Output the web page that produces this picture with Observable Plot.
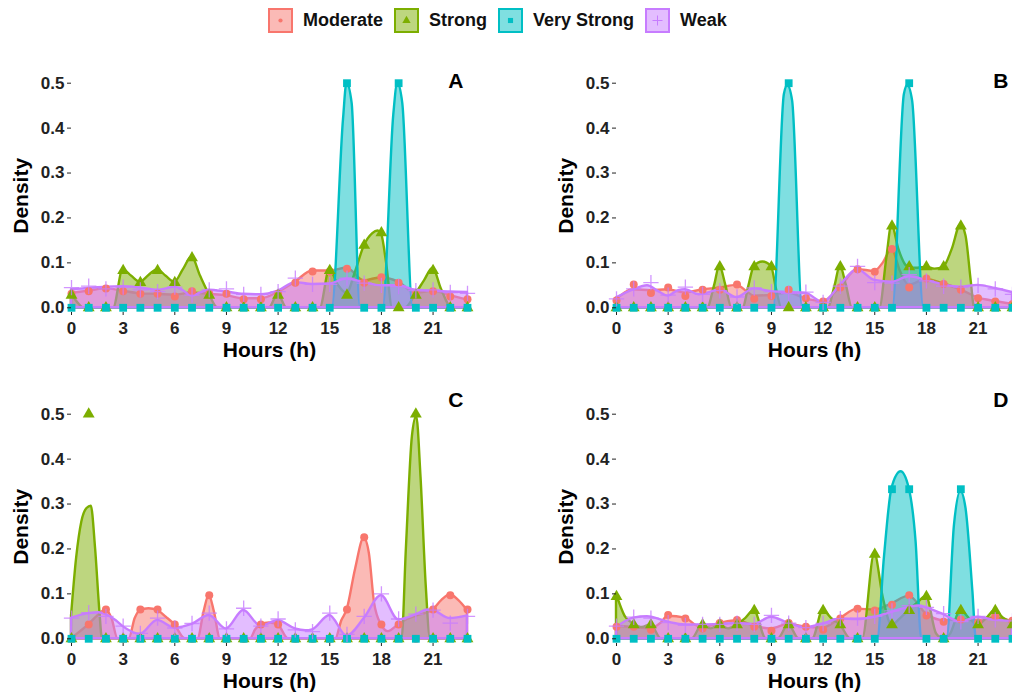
<!DOCTYPE html>
<html><head><meta charset="utf-8">
<script src="https://cdn.jsdelivr.net/npm/d3@7"></script>
<script src="https://cdn.jsdelivr.net/npm/@observablehq/plot@0.6"></script>
<style>
body{margin:0;background:#fff;font-family:"Liberation Sans",Arial,sans-serif;}
#root{position:relative;width:1012px;height:692px;overflow:hidden;background:#fff;}
.panel{position:absolute;}
#legend{position:absolute;top:8px;left:268px;display:flex;align-items:center;font-weight:bold;font-size:18px;color:#111;white-space:nowrap;}
#legend .item{display:flex;align-items:center;margin-right:11px;}
#legend svg{display:block;margin-right:10px;}
</style></head>
<body><div id="root"><div id="legend"></div></div>
<script>
const hours = [0,1,2,3,4,5,6,7,8,9,10,11,12,13,14,15,16,17,18,19,20,21,22,23];
const categories = ["Moderate","Strong","Very Strong","Weak"];
const colors = ["#F8766D","#7CAE00","#00BFC4","#C77CFF"];
const symbols = ["circle","triangle","square","plus"];
const xTicks = [0,3,6,9,12,15,18,21];
const yTicks = [0,0.1,0.2,0.3,0.4,0.5];
const panelLetters = ["A","B","C","D"];

// ---- Panel A: proportions per hour ----
const A_moderate = [0.031,0.037,0.043,0.037,0.031,0.031,0.025,0.037,0.031,0.031,0.019,0.019,0.031,0.056,0.081,0.081,0.087,0.056,0.068,0.056,0.031,0.037,0.025,0.019];
const A_strong = [0.028,0,0,0.083,0.056,0.083,0.056,0.111,0.028,0,0,0,0.028,0,0,0.083,0.028,0.139,0.167,0,0.028,0.083,0,0];
const A_veryStrong = [0,0,0,0,0,0,0,0,0,0,0,0,0,0,0,0,0.5,0,0,0.5,0,0,0,0];
const A_weak = [0.045,0.048,0.042,0.046,0.04,0.036,0.046,0.028,0.04,0.042,0.03,0.03,0.036,0.066,0.052,0.052,0.066,0.055,0.05,0.047,0.038,0.04,0.034,0.032];
// ---- Panel A: density curves [hour, density] ----
const A_moderateCurve = [[0,0.032],[1,0.037],[2,0.042],[3,0.037],[4,0.031],[5,0.03],[6,0.028],[7,0.033],[8,0.03],[9,0.027],[10,0.02],[11,0.02],[12,0.034],[13,0.057],[14,0.082],[15,0.082],[16,0.088],[17,0.06],[18,0.067],[19,0.057],[20,0.032],[21,0.037],[22,0.027],[23,0.017]];
const A_strongCurve = [[0,0.03],[0.35,0.012],[0.7,0],[2.45,0],[3,0.085],[3.5,0.07],[4,0.057],[4.5,0.072],[5,0.085],[5.5,0.07],[6,0.057],[6.5,0.085],[7,0.113],[7.5,0.07],[8,0.03],[8.5,0],[11.5,0],[12,0.03],[12.5,0],[14.45,0],[15,0.085],[15.5,0.05],[16,0.032],[16.5,0.08],[17,0.137],[17.5,0.165],[17.8,0.171],[18,0.165],[18.3,0.1],[18.65,0],[19.4,0],[20,0.03],[20.5,0.06],[21,0.088],[21.5,0.04],[22.1,0],[23,0]];
const A_veryStrongCurve = [[0,0],[15.14,0],[15.8,0.42],[16,0.5],[16.3,0.455],[16.78,0],[18.1,0],[18.72,0.43],[18.95,0.5],[19.24,0.455],[19.84,0],[23,0]];
const A_weakCurve = [[0,0.04],[1,0.043],[2,0.046],[3,0.047],[4,0.044],[5,0.039],[5.5,0.042],[6,0.046],[6.5,0.038],[7,0.026],[7.5,0.033],[8,0.039],[9,0.035],[10,0.03],[11,0.029],[12,0.037],[13,0.056],[14,0.052],[15,0.053],[16,0.064],[17,0.056],[18,0.049],[19,0.049],[20,0.039],[21,0.037],[22,0.035],[23,0.034]];

// ---- Panel B ----
const B_moderate = [0.016,0.052,0.033,0.045,0.026,0.04,0.04,0.052,0.02,0.026,0.04,0.021,0.014,0.045,0.086,0.08,0.131,0.045,0.065,0.053,0.04,0.021,0.014,0.008];
const B_strong = [0,0,0,0,0,0,0.091,0,0.091,0.091,0,0,0,0.091,0,0,0.182,0.091,0.091,0.091,0.182,0,0,0];
const B_veryStrong = [0,0,0,0,0,0,0,0,0,0,0.5,0,0,0,0,0,0,0.5,0,0,0,0,0,0];
const B_weak = [0.02,0.042,0.056,0.028,0.046,0.03,0.038,0.024,0.044,0.036,0.032,0.035,0.012,0.048,0.092,0.056,0.055,0.074,0.06,0.048,0.046,0.05,0.042,0.03];
const B_moderateCurve = [[0,0.018],[1,0.04],[2,0.038],[3,0.04],[4,0.033],[5,0.04],[6,0.044],[7,0.05],[7.6,0.035],[8,0.026],[9,0.028],[10,0.033],[11,0.02],[12,0.014],[13,0.045],[14,0.085],[15,0.081],[15.5,0.1],[16,0.13],[16.5,0.08],[17,0.05],[18,0.063],[19,0.053],[20,0.04],[21,0.022],[22,0.014],[23,0.008]];
const B_strongCurve = [[0,0],[5.3,0],[5.7,0.05],[6,0.093],[6.35,0.05],[6.7,0],[7.35,0],[7.7,0.05],[8,0.092],[8.5,0.102],[9,0.092],[9.3,0.04],[9.6,0],[12.3,0],[12.7,0.05],[13,0.093],[13.35,0.05],[13.7,0],[15.3,0],[15.7,0.11],[16,0.185],[16.4,0.13],[16.8,0.095],[17,0.09],[17.5,0.088],[18,0.09],[18.5,0.086],[19,0.09],[19.5,0.13],[20,0.185],[20.3,0.16],[20.6,0.06],[20.8,0],[23,0]];
const B_veryStrongCurve = [[0,0],[9.13,0],[9.75,0.475],[9.95,0.495],[10.23,0.46],[10.81,0],[16.05,0],[16.72,0.475],[16.92,0.495],[17.2,0.46],[17.85,0],[23,0]];
const B_weakCurve = [[0,0.022],[1,0.04],[1.8,0.049],[2.5,0.035],[3,0.026],[3.6,0.038],[4,0.04],[4.8,0.029],[5.5,0.035],[6,0.04],[7,0.023],[8,0.042],[9,0.036],[10,0.034],[11,0.032],[12,0.012],[13,0.05],[14,0.085],[15,0.061],[16,0.057],[17,0.069],[18,0.061],[19,0.051],[20,0.046],[21,0.05],[22,0.043],[23,0.034]];

// ---- Panel C ----
const C_moderate = [0,0.032,0.065,0,0.065,0.065,0.032,0,0.097,0,0,0.032,0.032,0,0,0,0.065,0.226,0.032,0.032,0,0.065,0.097,0.065];
const C_strong = [0,0.5,0,0,0,0,0,0,0,0,0,0,0,0,0,0,0,0,0,0,0.5,0,0,0];
const C_veryStrong = [0,0,0,0,0,0,0,0,0,0,0,0,0,0,0,0,0,0,0,0,0,0,0,0];
const C_weak = [0.046,0.058,0.05,0.028,0.012,0.046,0.024,0.034,0.057,0.022,0.068,0.028,0.044,0.02,0.016,0.057,0.01,0.05,0.1,0.044,0.055,0.064,0.035,0.05];
const C_moderateCurve = [[0,0],[0.4,0.012],[1,0.031],[1.5,0.05],[2,0.064],[2.35,0.045],[2.7,0],[3.35,0],[3.7,0.045],[4,0.063],[4.5,0.067],[5,0.063],[5.5,0.048],[6,0.031],[6.6,0],[7.35,0],[7.7,0.06],[8,0.097],[8.3,0.06],[8.65,0],[10.4,0],[10.7,0.02],[11,0.031],[11.5,0.035],[12,0.031],[12.6,0],[15.35,0],[15.7,0.04],[16,0.063],[16.5,0.155],[17,0.224],[17.3,0.19],[17.6,0.08],[18,0.031],[18.4,0.016],[19,0.031],[19.5,0.043],[20,0.05],[21,0.064],[21.5,0.085],[22,0.098],[22.5,0.085],[23,0.063]];
const C_strongCurve = [[0,0.05],[0.3,0.18],[0.6,0.26],[0.9,0.29],[1.15,0.295],[1.4,0.2],[1.65,0.06],[1.8,0],[19.2,0],[19.45,0.2],[19.8,0.45],[20.05,0.495],[20.3,0.36],[20.6,0.12],[20.85,0],[23,0]];
const C_veryStrongCurve = [];
const C_weakCurve = [[0,0.046],[1,0.056],[1.6,0.058],[2,0.054],[2.6,0.04],[3,0.027],[4,0.01],[5,0.041],[6,0.024],[7,0.032],[8,0.052],[9,0.022],[10,0.063],[11,0.028],[12,0.04],[13,0.022],[13.6,0.018],[14,0.02],[15,0.052],[16,0.006],[17,0.045],[18,0.096],[19,0.042],[20,0.053],[20.7,0.064],[21,0.063],[22,0.045],[23,0.051]];

// ---- Panel D ----
const D_moderate = [0.027,0.027,0.02,0.053,0.045,0.023,0.035,0.042,0.027,0.018,0.035,0.027,0.02,0.045,0.067,0.063,0.076,0.097,0.052,0.038,0.043,0.036,0.05,0.04];
const D_strong = [0.094,0.031,0.031,0,0,0.031,0.031,0.031,0.063,0,0.031,0,0.063,0.031,0,0.188,0.031,0.063,0.094,0,0.063,0.031,0.063,0.031];
const D_veryStrong = [0,0,0,0,0,0,0,0,0,0,0,0,0,0,0,0,0.333,0.333,0,0,0.333,0,0,0];
const D_weak = [0.028,0.048,0.046,0.036,0.03,0.032,0.032,0.035,0.032,0.052,0.035,0.025,0.034,0.045,0.046,0.05,0.062,0.074,0.07,0.056,0.038,0.05,0.042,0.04];
const D_moderateCurve = [[0,0.028],[1,0.025],[2,0.022],[2.6,0.035],[3,0.05],[4,0.046],[4.6,0.03],[5,0.025],[6,0.034],[7,0.04],[8,0.028],[9,0.022],[10,0.032],[11,0.026],[12,0.024],[13,0.045],[14,0.066],[15,0.064],[16,0.078],[17,0.095],[18,0.055],[19,0.04],[20,0.042],[21,0.04],[22,0.047],[23,0.038]];
const D_strongCurve = [[0,0.1],[0.5,0.05],[1,0.033],[1.5,0.025],[2,0.031],[2.6,0],[4.4,0],[5,0.031],[5.5,0.022],[6,0.031],[6.5,0.022],[7,0.031],[7.5,0.045],[8,0.063],[8.7,0],[9.4,0],[10,0.031],[10.6,0],[11.4,0],[12,0.063],[12.5,0.045],[13,0.031],[13.6,0],[14.3,0],[15,0.19],[15.5,0.09],[16,0.03],[16.5,0.045],[17,0.063],[17.5,0.08],[18,0.094],[18.6,0.01],[19,0],[19.4,0.01],[20,0.063],[20.5,0.045],[21,0.031],[21.5,0.045],[22,0.063],[22.5,0.045],[23,0.035]];
const D_veryStrongCurve = [[0,0],[15.17,0],[15.56,0.18],[16,0.335],[16.53,0.372],[17,0.335],[17.4,0.216],[17.73,0],[19.2,0],[19.63,0.253],[20,0.328],[20.3,0.29],[20.7,0.105],[20.9,0],[23,0]];
const D_weakCurve = [[0,0.025],[1,0.046],[1.8,0.049],[3,0.037],[4,0.031],[5,0.031],[6,0.032],[7,0.034],[8,0.032],[9,0.048],[10,0.034],[11,0.025],[12,0.033],[13,0.044],[14,0.043],[15,0.048],[16,0.059],[17,0.07],[17.6,0.073],[18,0.069],[19,0.054],[20,0.037],[21,0.048],[22,0.041],[23,0.039]];

const dotR = [4.0, 4.4, 4.4, 5.0];

function buildPanel(letter, pts, curves, cfg) {
  const marks = [];
  curves.forEach((c, i) => {
    if (!c.length) return;
    marks.push(Plot.areaY(c, {x: d => d[0], y: d => d[1], curve: "monotone-x",
      fill: colors[i], fillOpacity: 0.5, stroke: colors[i], strokeWidth: 2.4, strokeLinejoin: "round"}));
  });
  pts.forEach((p, i) => {
    const rows = hours.map((h, j) => ({hour: h, value: p[j], cat: categories[i]}));
    const o = {x: "hour", y: "value", symbol: symbols[i], r: dotR[i]};
    if (symbols[i] === "plus") { o.stroke = colors[i]; o.strokeWidth = 1.3; o.fill = "none"; o.strokeOpacity = 0.8; }
    else { o.fill = colors[i]; o.stroke = "none"; }
    marks.push(Plot.dot(rows, o));
  });
  marks.push(Plot.axisX({ticks: xTicks, tickSize: 3, tickPadding: 6, label: null, tickFormat: d => String(d), fontSize: 17, fontWeight: "bold"}));
  marks.push(Plot.axisY({ticks: yTicks, tickSize: 4, tickPadding: 3, label: null, tickFormat: d3.format(".1f"), fontSize: 17, fontWeight: "bold"}));
  marks.push(Plot.text(["Hours (h)"], {text: d => d, frameAnchor: "bottom", dy: 37.5, lineAnchor: "middle", fontSize: 21, fontWeight: "bold", fill: "#000"}));
  marks.push(Plot.text(["Density"], {text: d => d, frameAnchor: "left", rotate: -90, dx: -50, dy: -2, lineAnchor: "middle", textAnchor: "middle", fontSize: 21, fontWeight: "bold", fill: "#000"}));
  marks.push(Plot.text([letter], {text: d => d, frameAnchor: "top-right", textAnchor: "end", lineAnchor: "middle", dx: -4, dy: cfg.letterDy, fontSize: 21, fontWeight: "bold", fill: "#000"}));
  const chart = Plot.plot({
    width: cfg.width, height: 325,
    marginLeft: 71, marginRight: cfg.marginRight, marginTop: 42.7, marginBottom: 53,
    x: {domain: [0, 23]},
    y: {domain: [-0.0105, 0.5]},
    style: {fontFamily: "'Liberation Sans', Arial, sans-serif", fontSize: "17px", fontWeight: "bold", color: "#222", background: "none", overflow: "visible"},
    marks
  });
  const wrap = document.createElement("div");
  wrap.className = "panel";
  wrap.style.left = cfg.left + "px";
  wrap.style.top = cfg.top + "px";
  wrap.appendChild(chart);
  document.getElementById("root").appendChild(wrap);
}

buildPanel(panelLetters[0], [A_moderate, A_strong, A_veryStrong, A_weak], [A_moderateCurve, A_strongCurve, A_veryStrongCurve, A_weakCurve], {left: 0, top: 40, width: 480, marginRight: 13, letterDy: -2.2});
buildPanel(panelLetters[1], [B_moderate, B_strong, B_veryStrong, B_weak], [B_moderateCurve, B_strongCurve, B_veryStrongCurve, B_weakCurve], {left: 545, top: 40, width: 467, marginRight: 0, letterDy: -2.2});
buildPanel(panelLetters[2], [C_moderate, C_strong, C_veryStrong, C_weak], [C_moderateCurve, C_strongCurve, C_veryStrongCurve, C_weakCurve], {left: 0, top: 370.6, width: 480, marginRight: 13, letterDy: -14.3});
buildPanel(panelLetters[3], [D_moderate, D_strong, D_veryStrong, D_weak], [D_moderateCurve, D_strongCurve, D_veryStrongCurve, D_weakCurve], {left: 545, top: 370.6, width: 467, marginRight: 0, letterDy: -14.3});

// ---- Legend ----
const legend = document.getElementById("legend");
const NS = "http://www.w3.org/2000/svg";
categories.forEach((cat, i) => {
  const item = document.createElement("div");
  item.className = "item";
  const svg = document.createElementNS(NS, "svg");
  svg.setAttribute("width", 25); svg.setAttribute("height", 25);
  const rect = document.createElementNS(NS, "rect");
  rect.setAttribute("x", 1); rect.setAttribute("y", 1); rect.setAttribute("width", 23); rect.setAttribute("height", 23);
  rect.setAttribute("fill", colors[i]); rect.setAttribute("fill-opacity", 0.5);
  rect.setAttribute("stroke", colors[i]); rect.setAttribute("stroke-width", 2);
  svg.appendChild(rect);
  const g = document.createElementNS(NS, "path");
  g.setAttribute("transform", "translate(12.5,12.5)");
  if (symbols[i] === "plus") {
    g.setAttribute("d", "M-5,0H5M0,-5V5");
    g.setAttribute("stroke", colors[i]); g.setAttribute("stroke-width", 1); g.setAttribute("fill", "none");
  } else {
    const sym = {circle: d3.symbolCircle, triangle: d3.symbolTriangle, square: d3.symbolSquare}[symbols[i]];
    const size = {circle: 14, triangle: 30, square: 26}[symbols[i]];
    g.setAttribute("d", d3.symbol(sym, size)());
    g.setAttribute("fill", colors[i]);
  }
  svg.appendChild(g);
  item.appendChild(svg);
  const label = document.createElement("span");
  label.textContent = cat;
  item.appendChild(label);
  legend.appendChild(item);
});
</script>
</body></html>
